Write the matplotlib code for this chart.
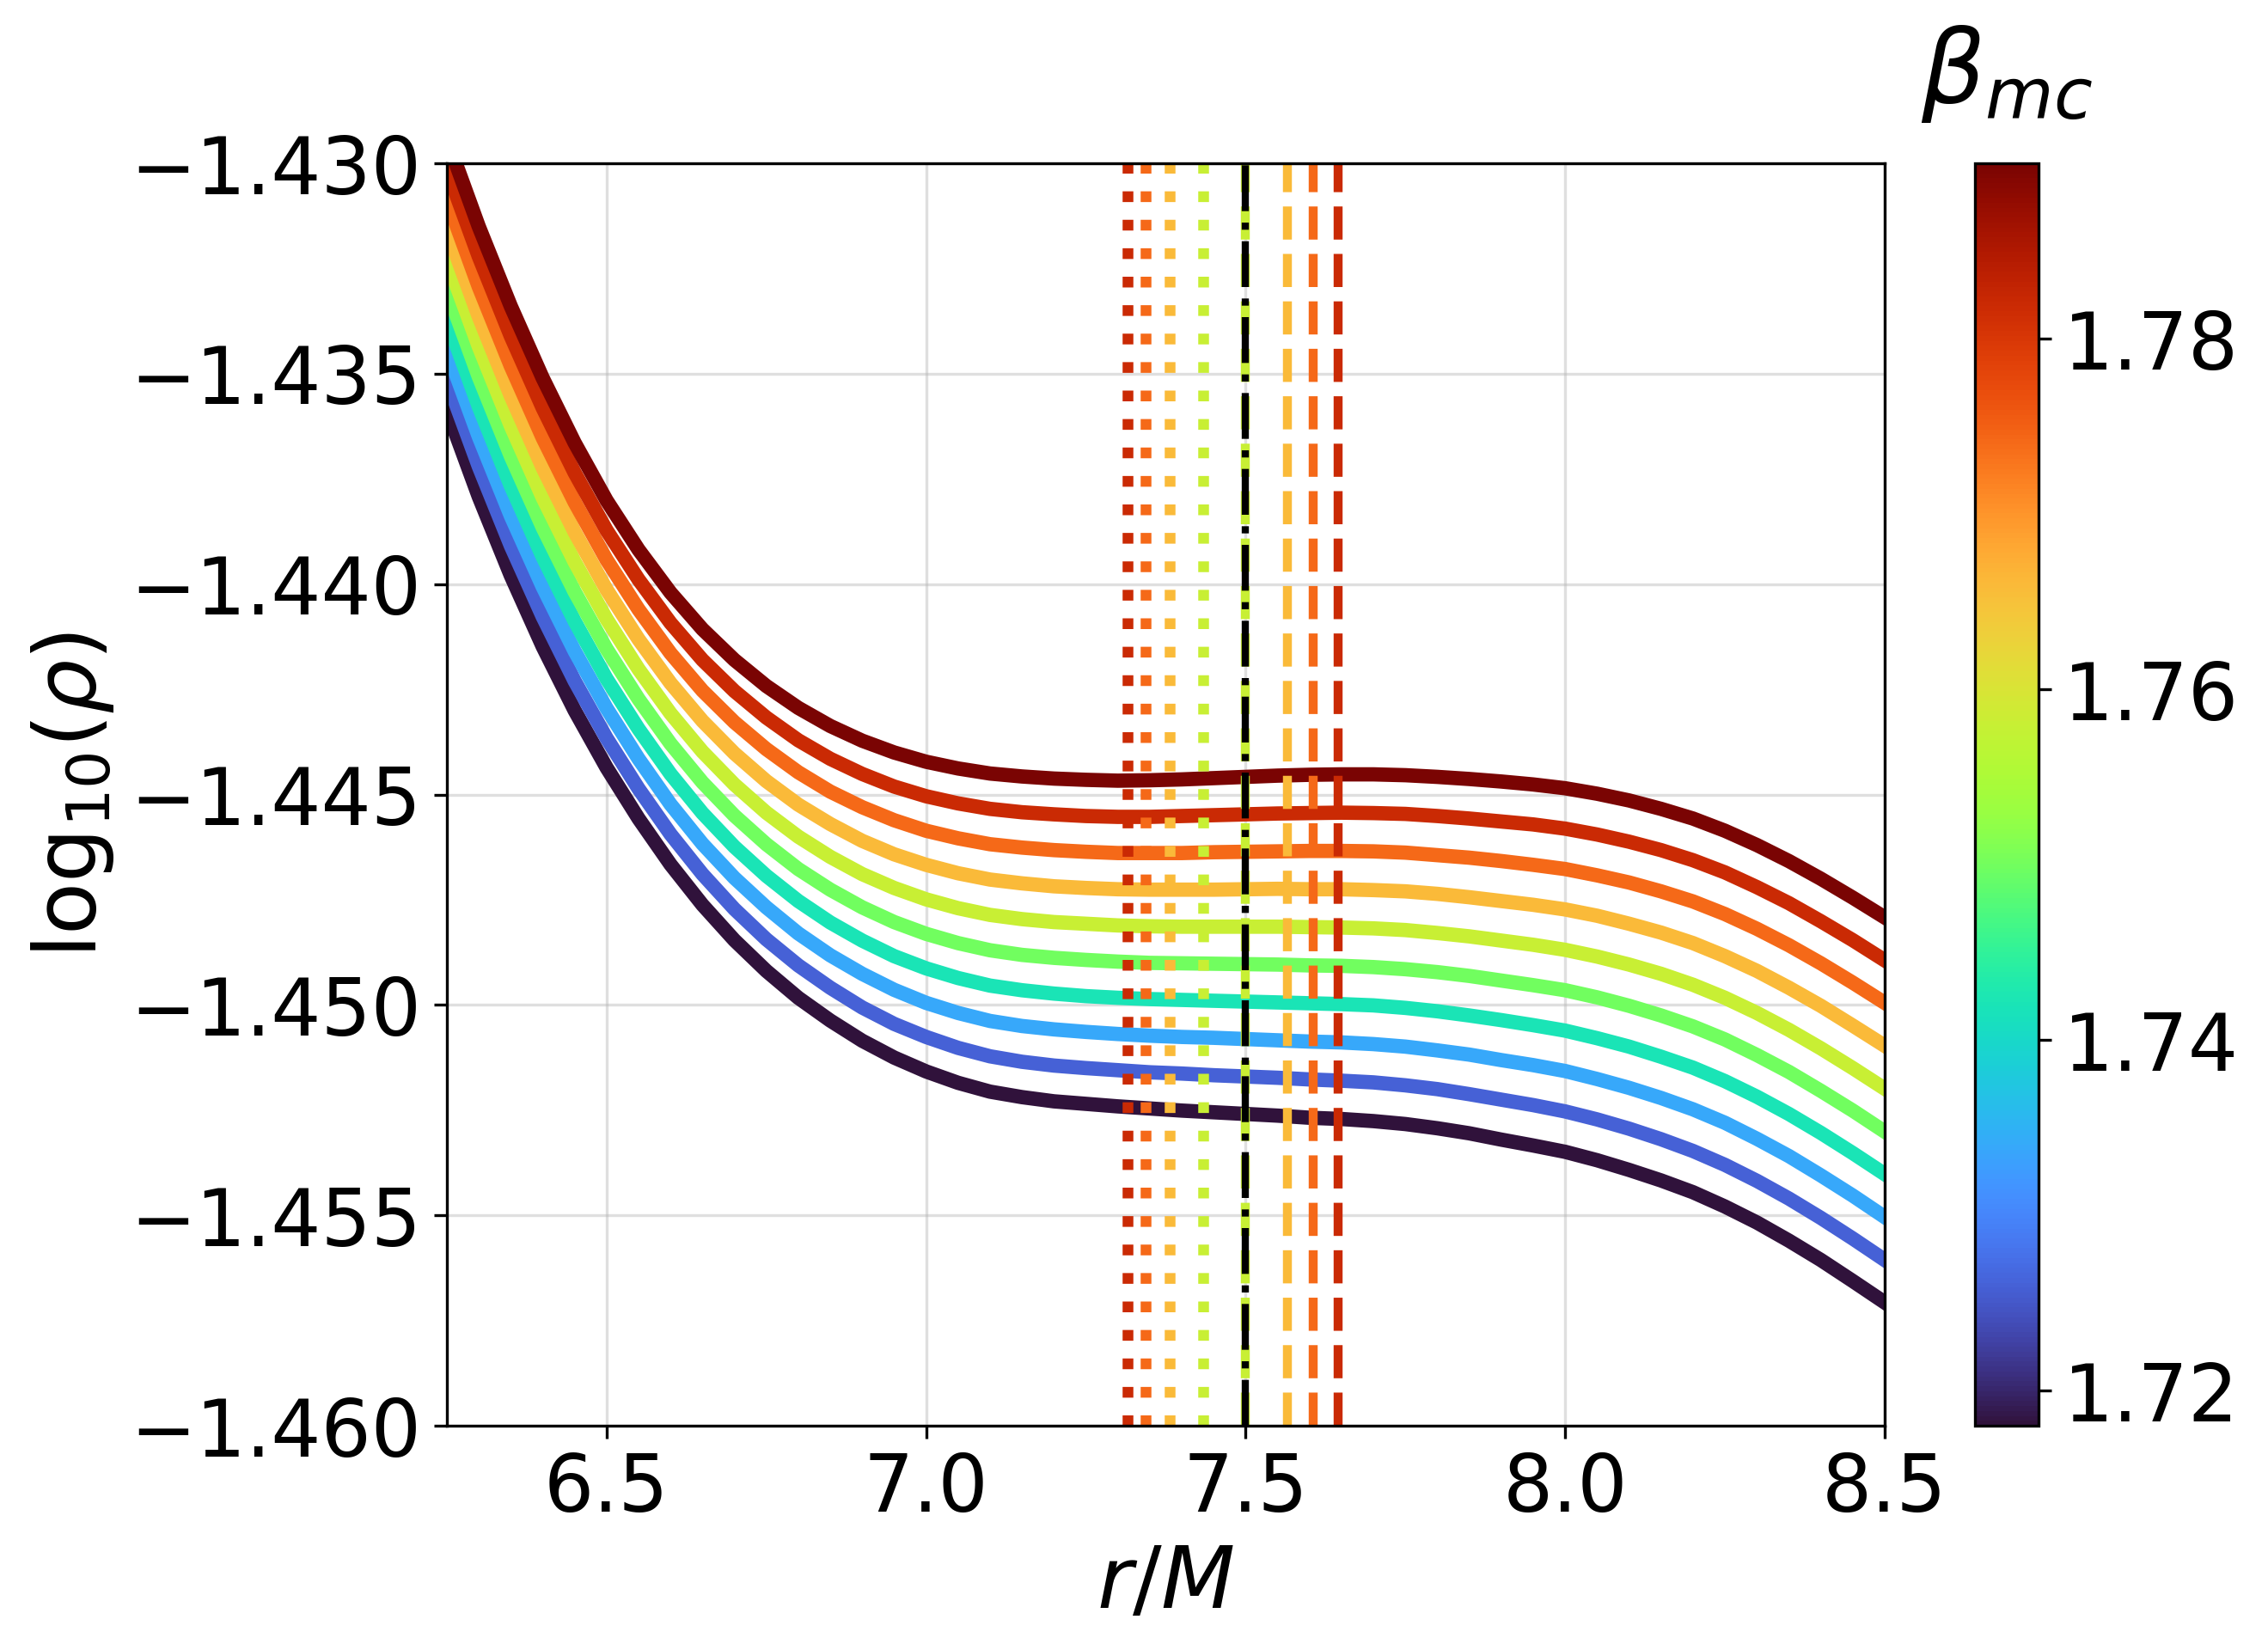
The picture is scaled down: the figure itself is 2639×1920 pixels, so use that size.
import matplotlib

matplotlib.use("Agg")
import matplotlib.pyplot as plt
from matplotlib.colors import Normalize
from matplotlib.cm import ScalarMappable

DPI = 300

# r/M sample positions
R = [6.25, 6.30, 6.35, 6.40, 6.45, 6.50, 6.55, 6.60, 6.65, 6.70, 6.75,
     6.80, 6.85, 6.90, 6.95, 7.00, 7.05, 7.10, 7.15, 7.20, 7.25, 7.30,
     7.35, 7.40, 7.45, 7.50, 7.55, 7.60, 7.65, 7.70, 7.75, 7.80, 7.85,
     7.90, 7.95, 8.00, 8.05, 8.10, 8.15, 8.20, 8.25, 8.30, 8.35, 8.40,
     8.45, 8.50]

BETA = [1.718, 1.726, 1.734, 1.742, 1.750, 1.758, 1.766, 1.774, 1.782, 1.790]

# log10(rho) for each beta_mc, lowest beta first
LOGRHO_1718 = [-1.43585, -1.43792, -1.43979, -1.44148, -1.44300, -1.44436, -1.44557, -1.44666,
               -1.44762, -1.44846, -1.44919, -1.44983, -1.45037, -1.45085, -1.45125,
               -1.45158, -1.45185, -1.45206, -1.45219, -1.45229, -1.45235, -1.45241, -1.45246,
               -1.45251, -1.45255, -1.45259, -1.45263, -1.45268, -1.45271, -1.45276, -1.45283,
               -1.45293, -1.45305, -1.45320, -1.45334, -1.45349, -1.45369, -1.45392, -1.45417,
               -1.45445, -1.45479, -1.45517, -1.45560, -1.45606, -1.45656, -1.45707]
LOGRHO_1726 = [-1.43513, -1.43720, -1.43908, -1.44077, -1.44230, -1.44366, -1.44486, -1.44594,
               -1.44689, -1.44772, -1.44844, -1.44906, -1.44959, -1.45006, -1.45045,
               -1.45076, -1.45102, -1.45122, -1.45135, -1.45144, -1.45150, -1.45155, -1.45160,
               -1.45163, -1.45167, -1.45170, -1.45173, -1.45177, -1.45180, -1.45184, -1.45191,
               -1.45200, -1.45212, -1.45225, -1.45238, -1.45253, -1.45272, -1.45294, -1.45319,
               -1.45347, -1.45380, -1.45418, -1.45460, -1.45506, -1.45555, -1.45606]
LOGRHO_1734 = [-1.43442, -1.43649, -1.43837, -1.44006, -1.44159, -1.44295, -1.44415, -1.44523,
               -1.44617, -1.44698, -1.44768, -1.44830, -1.44882, -1.44926, -1.44964,
               -1.44995, -1.45019, -1.45038, -1.45050, -1.45058, -1.45064, -1.45069, -1.45073,
               -1.45076, -1.45078, -1.45081, -1.45084, -1.45087, -1.45089, -1.45093, -1.45099,
               -1.45108, -1.45118, -1.45131, -1.45143, -1.45157, -1.45176, -1.45197, -1.45221,
               -1.45248, -1.45280, -1.45318, -1.45359, -1.45405, -1.45453, -1.45504]
LOGRHO_1742 = [-1.43370, -1.43578, -1.43766, -1.43935, -1.44088, -1.44225, -1.44344, -1.44451,
               -1.44544, -1.44624, -1.44693, -1.44753, -1.44804, -1.44847, -1.44884,
               -1.44913, -1.44936, -1.44954, -1.44965, -1.44973, -1.44979, -1.44983, -1.44986,
               -1.44988, -1.44990, -1.44992, -1.44994, -1.44996, -1.44998, -1.45001, -1.45007,
               -1.45015, -1.45025, -1.45036, -1.45048, -1.45061, -1.45079, -1.45099, -1.45123,
               -1.45149, -1.45181, -1.45218, -1.45259, -1.45304, -1.45352, -1.45402]
LOGRHO_1750 = [-1.43299, -1.43507, -1.43695, -1.43865, -1.44018, -1.44154, -1.44273, -1.44379,
               -1.44471, -1.44550, -1.44618, -1.44677, -1.44726, -1.44768, -1.44803,
               -1.44831, -1.44853, -1.44870, -1.44881, -1.44888, -1.44893, -1.44897, -1.44900,
               -1.44901, -1.44902, -1.44903, -1.44904, -1.44906, -1.44907, -1.44910, -1.44915,
               -1.44922, -1.44931, -1.44942, -1.44953, -1.44965, -1.44982, -1.45002, -1.45025,
               -1.45051, -1.45082, -1.45119, -1.45159, -1.45204, -1.45251, -1.45301]
LOGRHO_1758 = [-1.43227, -1.43435, -1.43623, -1.43794, -1.43947, -1.44083, -1.44202, -1.44307,
               -1.44398, -1.44476, -1.44543, -1.44600, -1.44648, -1.44689, -1.44722,
               -1.44749, -1.44770, -1.44786, -1.44796, -1.44803, -1.44807, -1.44811, -1.44813,
               -1.44814, -1.44814, -1.44814, -1.44814, -1.44815, -1.44816, -1.44818, -1.44822,
               -1.44829, -1.44837, -1.44847, -1.44857, -1.44869, -1.44885, -1.44904, -1.44926,
               -1.44952, -1.44983, -1.45019, -1.45059, -1.45103, -1.45150, -1.45199]
LOGRHO_1766 = [-1.43156, -1.43364, -1.43552, -1.43723, -1.43876, -1.44013, -1.44131, -1.44235,
               -1.44325, -1.44402, -1.44468, -1.44524, -1.44570, -1.44610, -1.44642,
               -1.44667, -1.44687, -1.44702, -1.44711, -1.44718, -1.44722, -1.44725, -1.44726,
               -1.44726, -1.44726, -1.44725, -1.44724, -1.44725, -1.44725, -1.44727, -1.44730,
               -1.44736, -1.44744, -1.44753, -1.44762, -1.44773, -1.44788, -1.44807, -1.44828,
               -1.44853, -1.44884, -1.44919, -1.44959, -1.45002, -1.45049, -1.45097]
LOGRHO_1774 = [-1.43084, -1.43293, -1.43481, -1.43652, -1.43805, -1.43942, -1.44060, -1.44164,
               -1.44253, -1.44328, -1.44392, -1.44447, -1.44493, -1.44530, -1.44561,
               -1.44586, -1.44604, -1.44618, -1.44626, -1.44632, -1.44636, -1.44639, -1.44639,
               -1.44639, -1.44637, -1.44636, -1.44635, -1.44634, -1.44634, -1.44635, -1.44638,
               -1.44644, -1.44650, -1.44658, -1.44667, -1.44677, -1.44692, -1.44709, -1.44730,
               -1.44754, -1.44784, -1.44819, -1.44858, -1.44901, -1.44947, -1.44995]
LOGRHO_1782 = [-1.43013, -1.43221, -1.43410, -1.43581, -1.43735, -1.43872, -1.43989, -1.44092,
               -1.44180, -1.44254, -1.44317, -1.44371, -1.44415, -1.44451, -1.44481,
               -1.44504, -1.44521, -1.44534, -1.44542, -1.44547, -1.44551, -1.44553, -1.44553,
               -1.44551, -1.44549, -1.44547, -1.44545, -1.44544, -1.44543, -1.44544, -1.44546,
               -1.44551, -1.44557, -1.44564, -1.44571, -1.44581, -1.44595, -1.44612, -1.44632,
               -1.44656, -1.44685, -1.44720, -1.44758, -1.44801, -1.44846, -1.44894]
LOGRHO_1790 = [-1.42941, -1.43150, -1.43339, -1.43510, -1.43664, -1.43801, -1.43918, -1.44020,
               -1.44107, -1.44180, -1.44242, -1.44294, -1.44337, -1.44372, -1.44400,
               -1.44422, -1.44438, -1.44450, -1.44457, -1.44462, -1.44465, -1.44467, -1.44466,
               -1.44464, -1.44461, -1.44458, -1.44455, -1.44453, -1.44452, -1.44452, -1.44454,
               -1.44458, -1.44463, -1.44469, -1.44476, -1.44485, -1.44498, -1.44514, -1.44534,
               -1.44557, -1.44586, -1.44620, -1.44658, -1.44700, -1.44745, -1.44792]

CURVES = [LOGRHO_1718, LOGRHO_1726, LOGRHO_1734, LOGRHO_1742, LOGRHO_1750,
          LOGRHO_1758, LOGRHO_1766, LOGRHO_1774, LOGRHO_1782, LOGRHO_1790]

# local minimum / maximum markers and their beta_mc
MARK_BETA = [1.782, 1.774, 1.766, 1.758]
R_MIN = [7.3155, 7.3428, 7.3817, 7.4341]
R_MAX = [7.6447, 7.6052, 7.5648, 7.5000]
R_REF = 7.5

YTICKS = [-1.460, -1.455, -1.450, -1.445, -1.440, -1.435, -1.430]
XTICKS = [6.5, 7.0, 7.5, 8.0, 8.5]
CBAR_TICKS = [1.72, 1.74, 1.76, 1.78]

cmap = plt.get_cmap("turbo")
norm = Normalize(vmin=1.718, vmax=1.790)

fig = plt.figure(figsize=(2639 / DPI, 1920 / DPI), dpi=DPI)
ax = fig.add_axes([0.1970, 0.1359, 0.6340, 0.7651])
cax = fig.add_axes([0.8708, 0.1359, 0.0280, 0.7651])

for beta, vals in zip(BETA, CURVES):
    ax.plot(R, vals, color=cmap(norm(beta)), linewidth=4.0, solid_joinstyle="round")

for beta, r0 in zip(MARK_BETA, R_MIN):
    ax.axvline(r0, color=cmap(norm(beta)), linestyle=":", linewidth=3.0)
for beta, r0 in zip(MARK_BETA, R_MAX):
    ax.axvline(r0, color=cmap(norm(beta)), linestyle="--", linewidth=2.5)
ax.axvline(R_REF, color="black", linestyle="-.", linewidth=2.0)

ax.set_xlim(6.25, 8.5)
ax.set_ylim(-1.460, -1.430)
ax.set_xticks(XTICKS)
ax.set_yticks(YTICKS)
ax.tick_params(labelsize=22)
ax.grid(True, alpha=0.4)
ax.set_xlabel(r"$r/M$", fontsize=24)
ax.set_ylabel(r"log$_{10}(\rho)$", fontsize=24)

sm = ScalarMappable(norm=norm, cmap=cmap)
cbar = fig.colorbar(sm, cax=cax, ticks=CBAR_TICKS)
cbar.ax.tick_params(labelsize=22)
cbar.ax.set_title(r"$\beta_{mc}$", fontsize=28, pad=17)

fig.savefig("out.png", dpi=DPI)
